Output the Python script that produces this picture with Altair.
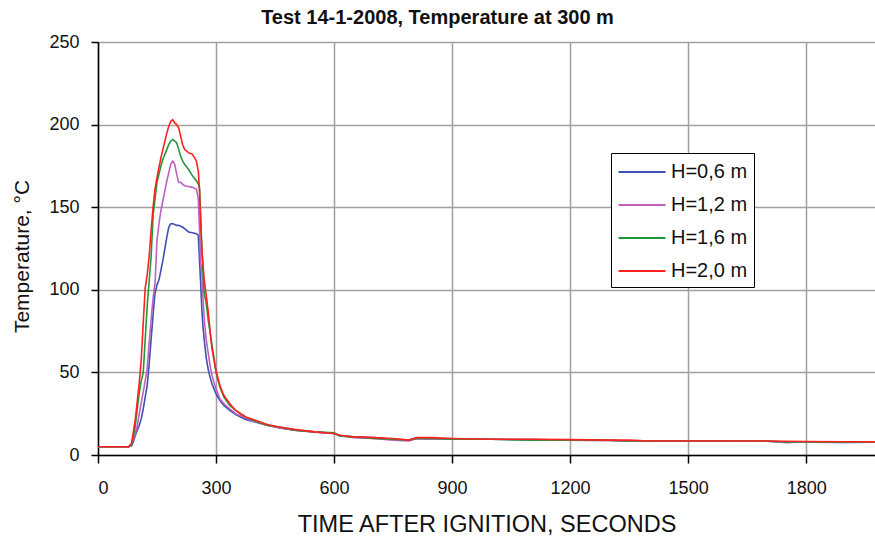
import altair as alt
import pandas as pd

# ---- data ----
time_s = [0, 78, 85, 90, 95, 100, 105, 110, 115, 120, 125, 130, 135, 140, 145,
          150, 155, 160, 165, 170, 175, 180, 185, 190, 195, 200, 205, 210, 215,
          220, 230, 240, 250, 255, 258, 261, 264, 267, 270, 275, 280, 285, 290,
          300, 310, 320, 335, 350, 375, 400, 430, 460, 500, 550, 600, 615, 650,
          700, 750, 790, 810, 850, 900, 1000, 1100, 1200, 1300, 1350, 1400,
          1500, 1600, 1700, 1750, 1800, 1900, 1980]

t_h06 = [5, 5, 5.5, 8, 12, 15, 18, 22, 28, 35, 42, 55, 70, 85, 98,
         103, 106, 112, 118, 125, 132, 138, 140, 140, 139.5, 139, 139, 138.5, 138,
         137, 135, 134.5, 134, 133, 118, 104, 88, 77, 70, 59, 52, 47, 43,
         37, 33, 30, 27, 24.5, 21.5, 20, 18, 16.5, 15, 14, 13, 11.5, 11,
         10.5, 9.5, 9, 10, 9.5, 9.5, 9.5, 9.3, 9, 8.8, 8.5, 8.5,
         8.5, 8.5, 8.3, 7.8, 7.8, 7.6, 7.7]

t_h12 = [5, 5, 6, 9, 13, 18, 25, 32, 38, 45, 52, 68, 82, 95, 104,
         130, 140, 148, 154, 160, 166, 171, 176, 178, 176, 170, 165, 165, 164,
         163, 162.5, 162, 161, 155, 136, 116, 112, 95, 82, 70, 62, 54, 48,
         40, 34, 31, 28, 25, 22.5, 20, 18, 16.5, 15, 14, 13, 12, 10.5,
         10, 9, 8.5, 10, 9.5, 9.5, 9.5, 9.3, 9, 8.8, 8.5, 8.5,
         8.5, 8.5, 8.3, 7.5, 8, 7.8, 7.8]

t_h16 = [5, 5, 6, 11, 18, 28, 38, 45, 50, 70, 90, 105, 120, 145, 155,
         165, 170, 175, 179, 182, 185, 188, 190, 191, 190, 189, 185, 181, 178,
         176, 173, 169, 166, 164, 162, 145, 125, 110, 98, 92, 82, 74, 66,
         50, 41, 35, 30, 27, 23, 20.5, 18, 17, 15, 14, 13.5, 11.5, 11,
         10, 9.5, 9, 10, 10, 9.5, 9.5, 9, 9, 9, 8.5, 8.5,
         8.5, 8.5, 8.5, 7.8, 8, 7.8, 8]

t_h20 = [5, 5, 7, 14, 22, 33, 44, 58, 80, 101, 109, 120, 136, 150, 161,
         168, 174, 180, 185, 190, 195, 199, 202, 203, 201, 200, 198, 193, 188,
         185, 183, 182, 178, 172, 160, 140, 125, 115, 106, 97, 87, 75, 64,
         51, 42, 36, 31, 27, 23, 21, 18.5, 17, 15.5, 14, 13, 12, 11,
         10.5, 10, 9, 10.5, 10.5, 10, 9.5, 9.5, 9.3, 9, 9, 8.5,
         8.5, 8.5, 8.5, 8.3, 8.2, 8, 8]

series_names = ["H=0,6 m", "H=1,2 m", "H=1,6 m", "H=2,0 m"]
series_colors = ["#3f4fb3", "#c060c0", "#22983a", "#ff2020"]
x_ticks = [0, 300, 600, 900, 1200, 1500, 1800]
y_ticks = [0, 50, 100, 150, 200, 250]

rows = []
for name, vals in zip(series_names, [t_h06, t_h12, t_h16, t_h20]):
    for t, v in zip(time_s, vals):
        rows.append({"time": t, "temp": v, "series": name})
df = pd.DataFrame(rows)

FONT = "Liberation Sans"

chart = alt.Chart(df).mark_line(strokeWidth=1.6, clip=True).encode(
    x=alt.X("time:Q",
            scale=alt.Scale(domain=[0, 1975], nice=False, zero=False),
            axis=alt.Axis(values=x_ticks, format="d",
                          title="TIME AFTER IGNITION, SECONDS",
                          titleFontSize=23.5, titleFontWeight="normal",
                          titleBaseline="middle", titleY=69,
                          labelFontSize=18, labelPadding=16, tickSize=8)),
    y=alt.Y("temp:Q",
            scale=alt.Scale(domain=[0, 250], nice=False),
            axis=alt.Axis(values=y_ticks, format="d", title="Temperature, °C",
                          titleFontSize=21, titleFontWeight="normal",
                          titleX=-76, titleY=214, titleBaseline="middle",
                          titleAlign="center",
                          labelFontSize=18, labelPadding=12, tickSize=7)),
    color=alt.Color("series:N",
                    scale=alt.Scale(domain=series_names, range=series_colors),
                    legend=alt.Legend(title=None, orient="none",
                                      legendX=513, legendY=111,
                                      strokeColor="black", fillColor="white",
                                      padding=6, symbolType="M-2,0H2",
                                      symbolSize=552, symbolStrokeWidth=2,
                                      symbolOffset=12, labelOffset=16,
                                      labelFontSize=20, labelFont=FONT,
                                      labelColor="#111",
                                      rowPadding=10)),
    order=alt.Order("series:N"),
).properties(
    width=777,
    height=413,
    autosize=alt.AutoSizeParams(type="none"),
    padding={"left": 98, "top": 42, "right": 0, "bottom": 87},
    title=alt.TitleParams("Test 14-1-2008, Temperature at 300 m",
                          fontSize=20, fontWeight="bold", font=FONT,
                          color="#111", anchor="middle", dx=-49, offset=5),
).configure_view(
    stroke=None
).configure_axis(
    labelFont=FONT, titleFont=FONT, labelColor="#111", titleColor="#111",
    domainColor="black", domainWidth=1.5, tickColor="black", tickWidth=1.5,
    gridColor="#a0a0a0", gridWidth=1.5,
)

chart.save("out.html", embed_options={"renderer": "svg", "actions": False})
